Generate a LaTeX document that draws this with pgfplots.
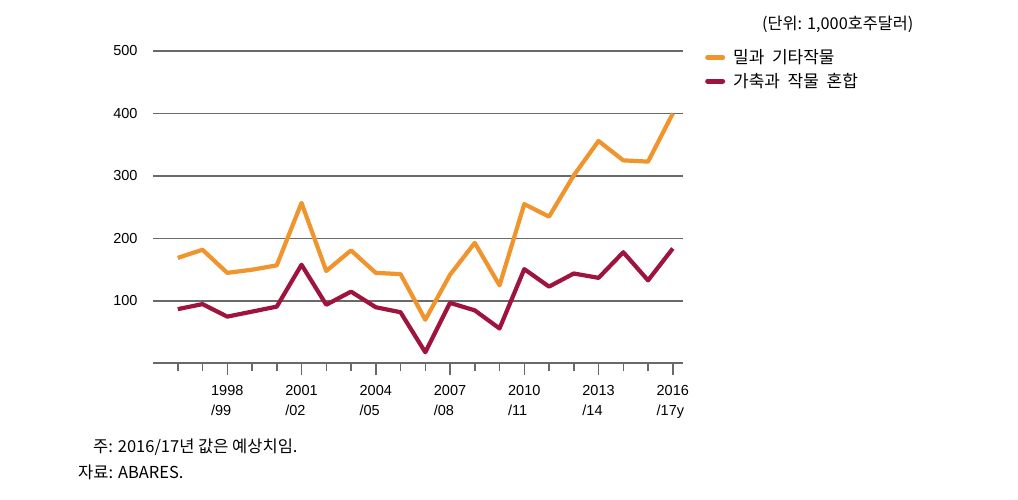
\documentclass[border=0pt]{standalone}
\usepackage{pgfplots}
\pgfplotsset{compat=1.18}
\usepackage{fontspec}
\setmainfont{Liberation Sans}
\newfontfamily\kr{Noto Sans CJK KR}
\definecolor{wheat}{RGB}{240,148,45}
\definecolor{mixed}{RGB}{158,20,62}
\definecolor{gridc}{RGB}{105,105,105}
\begin{document}
\begin{tikzpicture}
\useasboundingbox (0pt,0pt) rectangle (1018pt,500pt);
\begin{axis}[
  at={(153pt,136.5pt)}, anchor=south west,
  scale only axis, width=529.7pt, height=312.5pt,
  xmin=1995, xmax=2016.4, ymin=0, ymax=500,
  clip=false,
  axis x line*=bottom, axis y line*=left,
  x axis line style={draw=gridc, line width=2pt, -},
  y axis line style={draw=none},
  xtick={1998,2001,2004,2007,2010,2013,2016},
  xticklabels={1998\\/99,2001\\/02,2004\\/05,2007\\/08,2010\\/11,2013\\/14,2016\\/17y},
  minor xtick={1996,...,2016},
  ytick={100,200,300,400,500},
  tick align=outside,
  major tick length=12pt, minor tick length=8pt,
  xtick style={draw=gridc, line width=1.5pt},
  ytick style={draw=none},
  ymajorgrids, grid style={draw=gridc, line width=1.8pt},
  xticklabel style={align=left, font=\fontsize{14.5}{19.5}\selectfont, text=black, yshift=-6.5pt},
  yticklabel style={font=\fontsize{14.5}{17}\selectfont, text=black},
  /pgf/number format/assume math mode=true,
  legend style={draw=none, fill=none, at={(axis description cs:1.042,1.011)}, anchor=north west,
    font=\kr\fontsize{17}{20}\selectfont, row sep=4pt, column sep=6pt, inner sep=0pt,
    nodes={inner sep=2pt}},
  legend cell align=left,
  legend image code/.code={\draw[#1, line width=5pt, line cap=round] (2.5pt,0pt) -- (17.5pt,0pt);},
]
\addplot[draw=wheat, line width=4.2pt, line join=round] coordinates {
(1996,169) (1997,182) (1998,145) (1999,150) (2000,157) (2001,257) (2002,148)
(2003,181) (2004,145) (2005,143) (2006,70) (2007,142) (2008,193) (2009,125)
(2010,255) (2011,235) (2012,301) (2013,356) (2014,325) (2015,323) (2016,400)};
\addlegendentry{밀과\hspace{0.45em}기타작물}
\addplot[draw=mixed, line width=4.2pt, line join=round] coordinates {
(1996,87) (1997,95) (1998,75) (1999,83) (2000,91) (2001,158) (2002,94)
(2003,115) (2004,90) (2005,82) (2006,18) (2007,97) (2008,85) (2009,56)
(2010,151) (2011,123) (2012,144) (2013,137) (2014,178) (2015,133) (2016,184)};
\addlegendentry{가축과\hspace{0.45em}작물\hspace{0.45em}혼합}
\end{axis}
\node[anchor=west, inner sep=0pt, font=\kr\fontsize{16.3}{19}\selectfont] at (762pt,476pt) {(단위: 1,000호주달러)};
\node[anchor=west, inner sep=0pt, font=\kr\fontsize{16.5}{19}\selectfont] at (93pt,53pt) {주: 2016/17년 값은 예상치임.};
\node[anchor=west, inner sep=0pt, font=\kr\fontsize{16.5}{19}\selectfont] at (78pt,28pt) {자료: ABARES.};
\end{tikzpicture}
\end{document}
